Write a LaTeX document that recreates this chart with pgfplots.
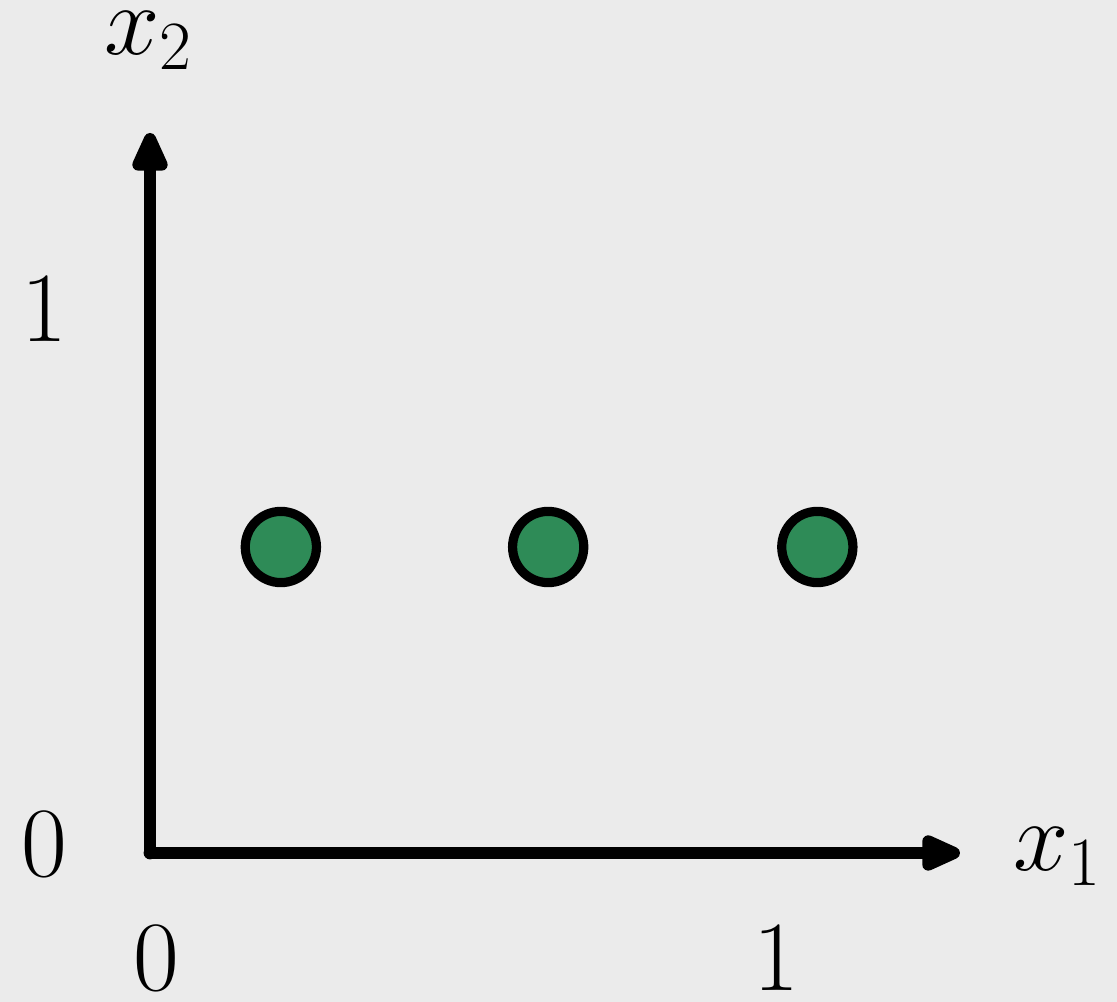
\documentclass[border=0pt]{standalone}
\usepackage{pgfplots}
\pgfplotsset{compat=1.18}
\usetikzlibrary{arrows.meta}
\definecolor{bgcol}{HTML}{EBEBEB}
\definecolor{ptgreen}{HTML}{2E8B57}
\begin{document}
\begin{tikzpicture}
% light grey canvas
\path[use as bounding box, fill=bgcol] (-37.5pt,-37.25pt) rectangle (241.75pt,213.25pt);
\begin{axis}[
  at={(0,0)}, anchor=origin,
  scale only axis,
  width=202.5pt, height=180pt,
  xmin=0, xmax=1.306, ymin=0, ymax=1.346,
  axis lines=left,
  axis line style={line width=3.2pt, line cap=round,
    -{Triangle[length=12pt,width=9.5pt,round]}},
  major tick length=0pt,
  xtick={0,1}, ytick={0,1},
  xticklabels={$0$,\raisebox{-2.2pt}{$1$}},
  yticklabels={$0$,$1$},
  tick label style={font=\fontsize{24}{28}\selectfont},
  xticklabel style={anchor=center, yshift=-26.3pt, xshift=1.5pt},
  yticklabel style={anchor=center, xshift=-26.5pt, yshift=2.2pt},
  every axis x label/.style={at={(rel axis cs:1.0705,0)}, anchor=base west, xshift=-4.5pt, yshift=-4.5pt},
  every axis y label/.style={at={(rel axis cs:0,1.104)}, anchor=base west, xshift=-15pt, yshift=0.8pt},
  label style={font=\fontsize{26}{30}\selectfont},
  xlabel={$x_1$}, ylabel={$x_2$},
  clip=false,
]
\addplot[only marks, mark=*, mark size=8.9pt,
  mark options={fill=ptgreen, draw=black, line width=2.3pt}]
  coordinates {(0.211,0.572) (0.642,0.572) (1.076,0.572)};
\end{axis}
\end{tikzpicture}
\end{document}
